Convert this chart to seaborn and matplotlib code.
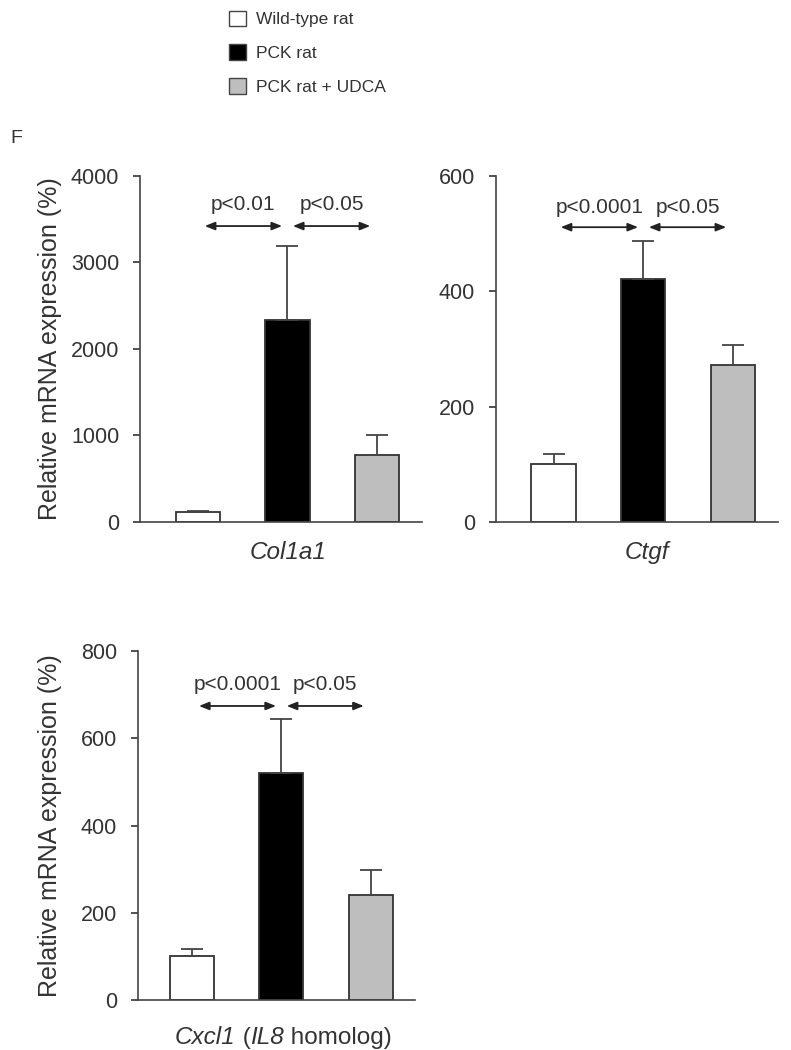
import numpy as np
import pandas as pd
import matplotlib
matplotlib.use("Agg")
import matplotlib.pyplot as plt
from matplotlib.patches import Patch
from matplotlib.offsetbox import TextArea, HPacker, AnnotationBbox
import seaborn as sns

### Data (mean and upper SEM bar)

groups = ["Wild-type rat", "PCK rat", "PCK rat + UDCA"]
colors = ["#ffffff", "#000000", "#bebebe"]

col1a1_mean = [110, 2330, 770]
col1a1_err = [12, 860, 230]

ctgf_mean = [100, 421, 272]
ctgf_err = [18, 66, 35]

cxcl1_mean = [100, 521, 240]
cxcl1_err = [18, 122, 58]

# significance labels (WT vs PCK, PCK vs PCK+UDCA)
p_col1a1 = ["p<0.01", "p<0.05"]
p_ctgf = ["p<0.0001", "p<0.05"]
p_cxcl1 = ["p<0.0001", "p<0.05"]

ink = "#333333"

sns.set_style("ticks")
plt.rcParams["font.family"] = ["Liberation Sans", "DejaVu Sans"]
plt.rcParams["text.color"] = ink
plt.rcParams["axes.labelcolor"] = ink
plt.rcParams["xtick.color"] = ink
plt.rcParams["ytick.color"] = ink
plt.rcParams["axes.edgecolor"] = "#444444"


def bar_panel(ax, means, errs, pvals, ymax, step, arrow_y, text_y, ylabel=True):
    df = pd.DataFrame({"group": groups, "value": means, "err": errs})
    sns.barplot(data=df, x="group", y="value", hue="group", order=groups,
                hue_order=groups, palette=dict(zip(groups, colors)),
                errorbar=None, width=0.49, edgecolor="#333333", linewidth=1.3,
                legend=False, ax=ax)
    x = np.arange(len(groups))
    ax.errorbar(x, df["value"], yerr=[np.zeros(len(x)), df["err"]], fmt="none",
                ecolor="#444444", elinewidth=1.3, capsize=8, capthick=1.3, zorder=1)

    # arrows for comparisons
    spans = [(0.08, 0.94), (1.06, 1.92)]
    for (a, b), txt in zip(spans, pvals):
        ax.annotate("", xy=(a, arrow_y), xytext=(b, arrow_y),
                    arrowprops=dict(arrowstyle="<|-|>,head_length=0.5,head_width=0.2",
                                    color="#222222", lw=1.3, mutation_scale=12,
                                    shrinkA=0, shrinkB=0))
        ax.text((a + b) / 2, text_y, txt, ha="center", va="center", fontsize=15)

    ax.set_ylim(0, ymax)
    ax.set_yticks(np.arange(0, ymax + 1, step))
    ax.set_xlim(-0.64, 2.5)
    ax.set_xticks([])
    ax.set_xlabel("")
    ax.tick_params(axis="y", labelsize=15.5, length=5, width=1.2, pad=10,
                   direction="out")
    for s in ["left", "bottom"]:
        ax.spines[s].set_linewidth(1.2)
    sns.despine(ax=ax)
    if ylabel:
        ax.set_ylabel("Relative mRNA expression (%)", fontsize=18)
        ax.yaxis.set_label_coords(-0.277, 0.5)
    else:
        ax.set_ylabel("")


fig = plt.figure(figsize=(7.91, 10.5), dpi=100)

ax1 = fig.add_axes([0.177, 0.503, 0.357, 0.3295])
bar_panel(ax1, col1a1_mean, col1a1_err, p_col1a1, 4000, 1000, 3420, 3665)
ax1.text(0.525, -0.088, "Col1a1", transform=ax1.transAxes, ha="center",
         va="center", fontsize=17.5, style="italic")

ax2 = fig.add_axes([0.627, 0.503, 0.357, 0.3295])
bar_panel(ax2, ctgf_mean, ctgf_err, p_ctgf, 600, 200, 511, 546, ylabel=False)
ax2.text(0.535, -0.088, "Ctgf", transform=ax2.transAxes, ha="center",
         va="center", fontsize=17.5, style="italic")

ax3 = fig.add_axes([0.1745, 0.0476, 0.350, 0.3324])
bar_panel(ax3, cxcl1_mean, cxcl1_err, p_cxcl1, 800, 200, 674, 724)
ax3.set_xlim(-0.60, 2.49)
ax3.yaxis.set_label_coords(-0.274, 0.5)

# mixed italic / upright gene label
parts = [("Cxcl1", "italic"), (" (", "normal"), ("IL8", "italic"),
         (" homolog)", "normal")]
pieces = [TextArea(t, textprops=dict(fontsize=17.5, style=st, color=ink))
          for t, st in parts]
box = HPacker(children=pieces, pad=0, sep=0, align="baseline")
ab = AnnotationBbox(box, (0.525, -0.107), xycoords="axes fraction",
                    frameon=False, box_alignment=(0.5, 0.5), pad=0)
ax3.add_artist(ab)

handles = [Patch(facecolor=c, edgecolor="#444444", linewidth=1.0) for c in colors]
fig.legend(handles, groups, loc="upper left", bbox_to_anchor=(0.290, 0.990),
           frameon=False, fontsize=12.5, handlelength=0.98, handleheight=0.98,
           handletextpad=0.55, labelspacing=1.0, borderpad=0, borderaxespad=0)

fig.text(0.013, 0.868, "F", fontsize=14, va="center", ha="left")

fig.savefig("out.png", dpi=100)
